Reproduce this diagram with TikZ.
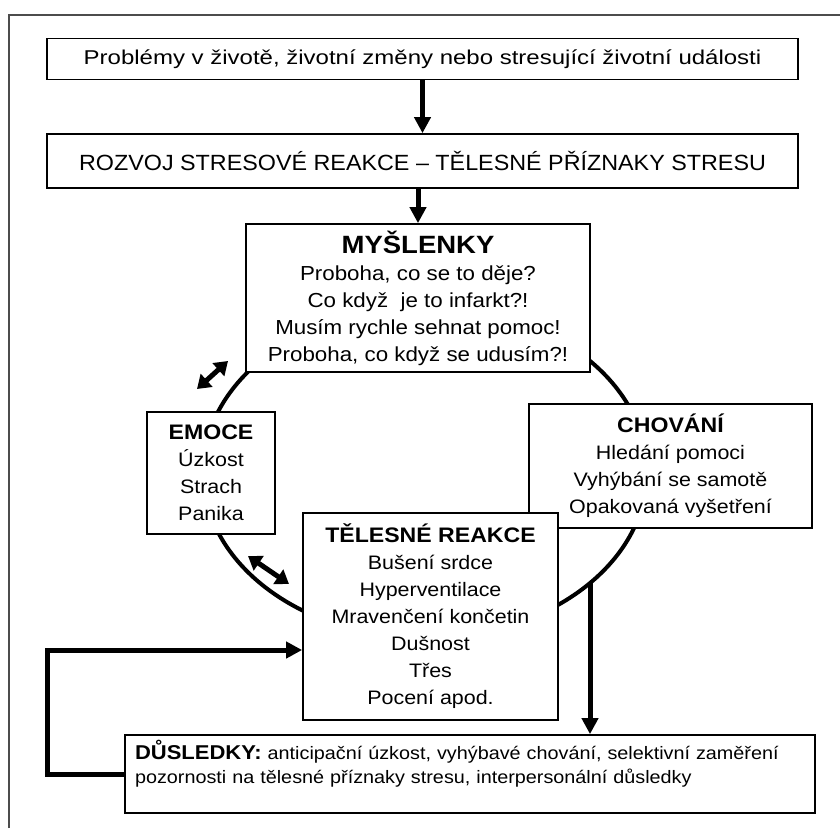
\documentclass[tikz,border=0pt]{standalone}
\usepackage{fontspec}
\setmainfont[FakeStretch=1.1]{Liberation Sans}
\newfontfamily\fontA[FakeStretch=1.2]{Liberation Sans}
\newfontfamily\fontB[FakeStretch=1.06]{Liberation Sans}
\usetikzlibrary{arrows.meta,calc}
\begin{document}
\begin{tikzpicture}[x=1pt,y=-1pt,
  box/.style={draw, line width=1.7pt, fill=white, inner sep=0pt, align=center},
  body/.style={font=\fontsize{19.5}{27}\selectfont},
  bigarrow/.style={line width=5pt, line join=miter, -{Triangle[width=16pt,length=16pt]}},
  dblarrow/.style={line width=5pt, {Triangle[width=17pt,length=13pt]}-{Triangle[width=17pt,length=13pt]}},
]
\useasboundingbox (0,0) rectangle (840,828);
\draw[line width=1.5pt, black!70] (9,828) -- (9,15) -- (840,15);

% cycle
\draw[line width=4pt] (425,472) ellipse [x radius=222, y radius=166];

\node[box, minimum width=751, minimum height=41, font=\fontA\fontsize{20}{24}\selectfont] (b1) at (422.5,59)
  {Problémy v životě, životní změny nebo stresující životní události};
\node[box, minimum width=751, minimum height=54, font=\fontB\fontsize{22}{26}\selectfont] (b2) at (422.5,161)
  {ROZVOJ STRESOVÉ REAKCE – TĚLESNÉ PŘÍZNAKY STRESU};

\node[box, font=\fontsize{20.3}{27}\selectfont, minimum width=344, minimum height=148] (my) at (418,298)
  {{\fontsize{25}{27}\selectfont\bfseries MYŠLENKY}\\
   Proboha, co se to děje?\\
   Co když\ \ je to infarkt?!\\
   Musím rychle sehnat pomoc!\\
   Proboha, co když se udusím?!};

\node[box, body, minimum width=128, minimum height=122] (em) at (211,473)
  {{\fontsize{21}{27}\selectfont\bfseries EMOCE}\\ Úzkost\\ Strach\\ Panika};

\node[box, body, minimum width=283, minimum height=124] (ch) at (670.5,466)
  {{\fontsize{21}{27}\selectfont\bfseries CHOVÁNÍ}\\ Hledání pomoci\\ Vyhýbání se samotě\\ Opakovaná vyšetření};

\node[box, body, minimum width=255, minimum height=207] (tel) at (430.5,616.5)
  {{\fontsize{21}{27}\selectfont\bfseries TĚLESNÉ REAKCE}\\ Bušení srdce\\ Hyperventilace\\ Mravenčení končetin\\ Dušnost\\ Třes\\ Pocení apod.};

\node[box, minimum width=690, minimum height=78, text width=670, align=left,
      font=\fontsize{18}{24}\selectfont] (dus) at (470,774)
  {{\fontsize{20}{24}\selectfont\bfseries DŮSLEDKY:} anticipační úzkost, vyhýbavé chování, selektivní zaměření\\
   pozornosti na tělesné příznaky stresu, interpersonální důsledky\\ \mbox{}};

% arrows
\draw[bigarrow] (b1.south) -- (b2.north);
\draw[bigarrow] (b2.south -| my.north) -- (my.north);
\coordinate (e1) at (590,583);
\draw[bigarrow] (e1) -- (e1 |- dus.north);
\coordinate (fb) at (47,650);
\draw[bigarrow] (dus.west) -| (fb) -- (fb -| tel.west);

\coordinate (d1a) at (197,389);
\coordinate (d1b) at (228,361);
\draw[dblarrow] (d1a) -- (d1b);
\coordinate (d2a) at (248,556);
\coordinate (d2b) at (289,584);
\draw[dblarrow] (d2a) -- (d2b);
\end{tikzpicture}
\end{document}
